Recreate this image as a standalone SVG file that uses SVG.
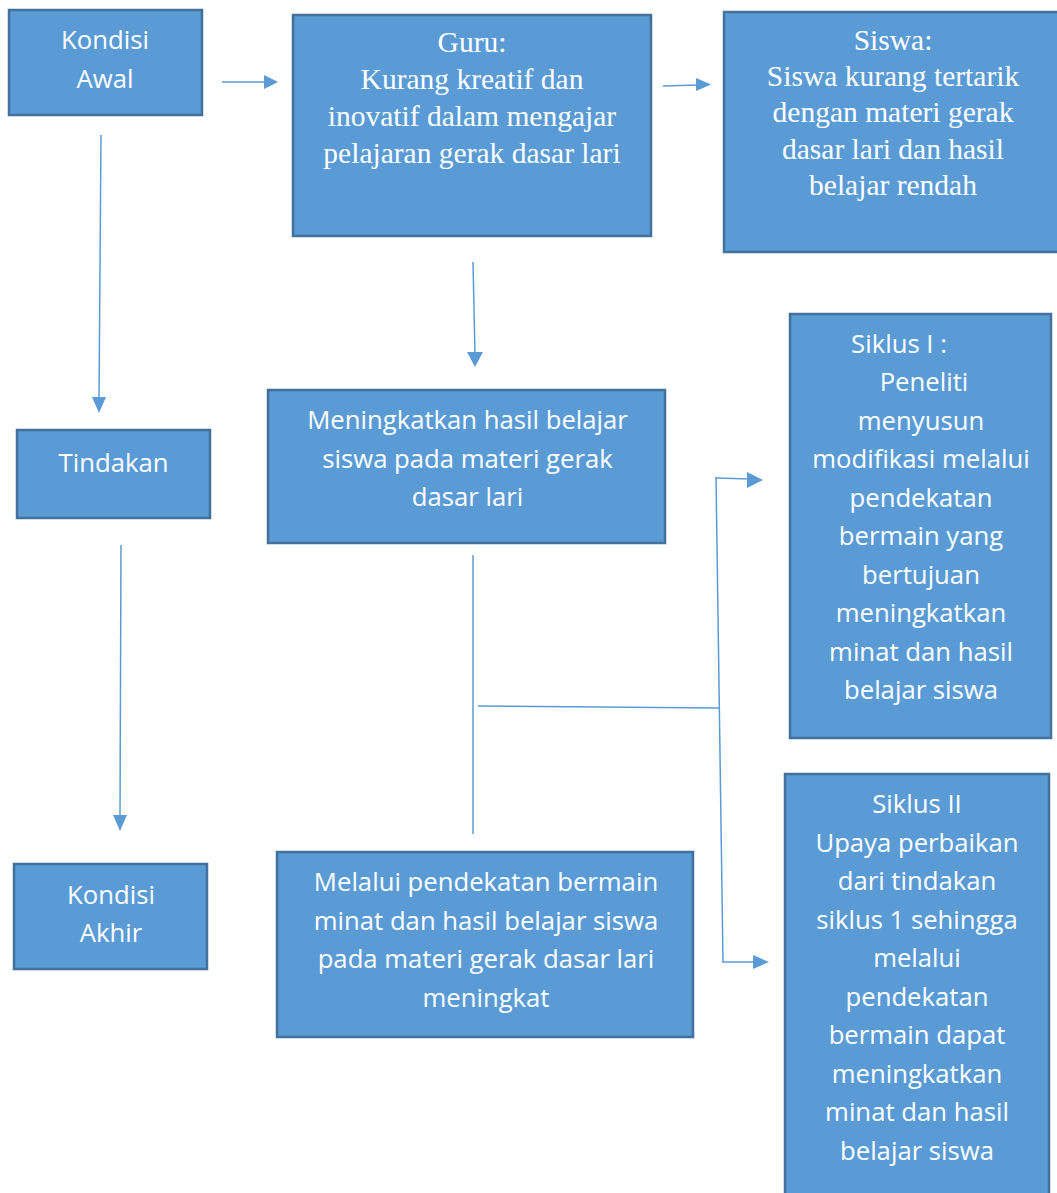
<svg xmlns="http://www.w3.org/2000/svg" width="1057" height="1193" viewBox="0 0 1057 1193">
<style>
.box{fill:#5B9BD5;stroke:#41719C;stroke-width:2.5}
.t{fill:#fff;font-family:"Open Sans",Lato,sans-serif;font-size:25.7px;text-anchor:middle}
.s{fill:#fff;font-family:"Liberation Serif","Times New Roman",serif;font-size:29.5px;text-anchor:middle}
.c{stroke:#5B9BD5;stroke-width:1.5;fill:none}
.h{fill:#5B9BD5}
</style>
<rect width="1057" height="1193" fill="#fff"/>
<g id="connectors">
<line class="c" x1="222" y1="82" x2="266" y2="82"/>
<path class="h" d="M264,75 L278,82 L264,89 z"/>
<line class="c" x1="663" y1="86" x2="698" y2="85"/>
<path class="h" d="M696,78 L711,84.5 L696,91 z"/>
<line class="c" x1="101" y1="135" x2="99" y2="400"/>
<path class="h" d="M92,397 L99,413 L106,397 z"/>
<line class="c" x1="121" y1="545" x2="120" y2="818"/>
<path class="h" d="M113,815 L120,831 L127,815 z"/>
<line class="c" x1="473" y1="262" x2="475" y2="355"/>
<path class="h" d="M467,352 L475,367 L483,352 z"/>
<line class="c" x1="473" y1="555" x2="473" y2="834"/>
<line class="c" x1="478" y1="706" x2="719" y2="708"/>
<line class="c" x1="716" y1="477" x2="723" y2="962"/>
<line class="c" x1="716" y1="478" x2="750" y2="479"/>
<path class="h" d="M747,472 L763,480 L747,488 z"/>
<line class="c" x1="722" y1="962" x2="756" y2="962"/>
<path class="h" d="M753,955 L769,962 L753,969 z"/>
</g>
<g id="kondisi-awal">
<rect class="box" x="9" y="10" width="193" height="105"/>
<text class="t" x="105" y="49">Kondisi</text>
<text class="t" x="105" y="88">Awal</text>
</g>
<g id="guru">
<rect class="box" x="293" y="15" width="358" height="221"/>
<text class="s" x="472" y="52">Guru:</text>
<text class="s" x="472" y="89">Kurang kreatif dan</text>
<text class="s" x="472" y="126">inovatif dalam mengajar</text>
<text class="s" x="472" y="163">pelajaran gerak dasar lari</text>
</g>
<g id="siswa">
<rect class="box" x="724" y="12" width="340" height="240"/>
<text class="s" x="893" y="50">Siswa:</text>
<text class="s" x="893" y="86">Siswa kurang tertarik</text>
<text class="s" x="893" y="122">dengan materi gerak</text>
<text class="s" x="893" y="159">dasar lari dan hasil</text>
<text class="s" x="893" y="195">belajar rendah</text>
</g>
<g id="tindakan">
<rect class="box" x="17" y="430" width="193" height="88"/>
<text class="t" x="113.5" y="472">Tindakan</text>
</g>
<g id="meningkatkan">
<rect class="box" x="268" y="390" width="397" height="153"/>
<text class="t" x="467.5" y="429">Meningkatkan hasil belajar</text>
<text class="t" x="467.5" y="468">siswa pada materi gerak</text>
<text class="t" x="467.5" y="506">dasar lari</text>
</g>
<g id="siklus-1">
<rect class="box" x="790" y="314" width="261" height="424"/>
<text class="t" x="899" y="353">Siklus I :</text>
<text class="t" x="924" y="391">Peneliti</text>
<text class="t" x="921" y="430">menyusun</text>
<text class="t" x="921" y="468">modifikasi melalui</text>
<text class="t" x="921" y="507">pendekatan</text>
<text class="t" x="921" y="545">bermain yang</text>
<text class="t" x="921" y="584">bertujuan</text>
<text class="t" x="921" y="622">meningkatkan</text>
<text class="t" x="921" y="661">minat dan hasil</text>
<text class="t" x="921" y="699">belajar siswa</text>
</g>
<g id="kondisi-akhir">
<rect class="box" x="14" y="864" width="193" height="105"/>
<text class="t" x="111" y="904">Kondisi</text>
<text class="t" x="111" y="942">Akhir</text>
</g>
<g id="melalui">
<rect class="box" x="277" y="852" width="416" height="185"/>
<text class="t" x="486" y="891">Melalui pendekatan bermain</text>
<text class="t" x="486" y="930">minat dan hasil belajar siswa</text>
<text class="t" x="486" y="968">pada materi gerak dasar lari</text>
<text class="t" x="486" y="1007">meningkat</text>
</g>
<g id="siklus-2">
<rect class="box" x="785" y="774" width="264" height="430"/>
<text class="t" x="917" y="813">Siklus II</text>
<text class="t" x="917" y="852">Upaya perbaikan</text>
<text class="t" x="917" y="890">dari tindakan</text>
<text class="t" x="917" y="929">siklus 1 sehingga</text>
<text class="t" x="917" y="967">melalui</text>
<text class="t" x="917" y="1006">pendekatan</text>
<text class="t" x="917" y="1044">bermain dapat</text>
<text class="t" x="917" y="1083">meningkatkan</text>
<text class="t" x="917" y="1121">minat dan hasil</text>
<text class="t" x="917" y="1160">belajar siswa</text>
</g>
</svg>
